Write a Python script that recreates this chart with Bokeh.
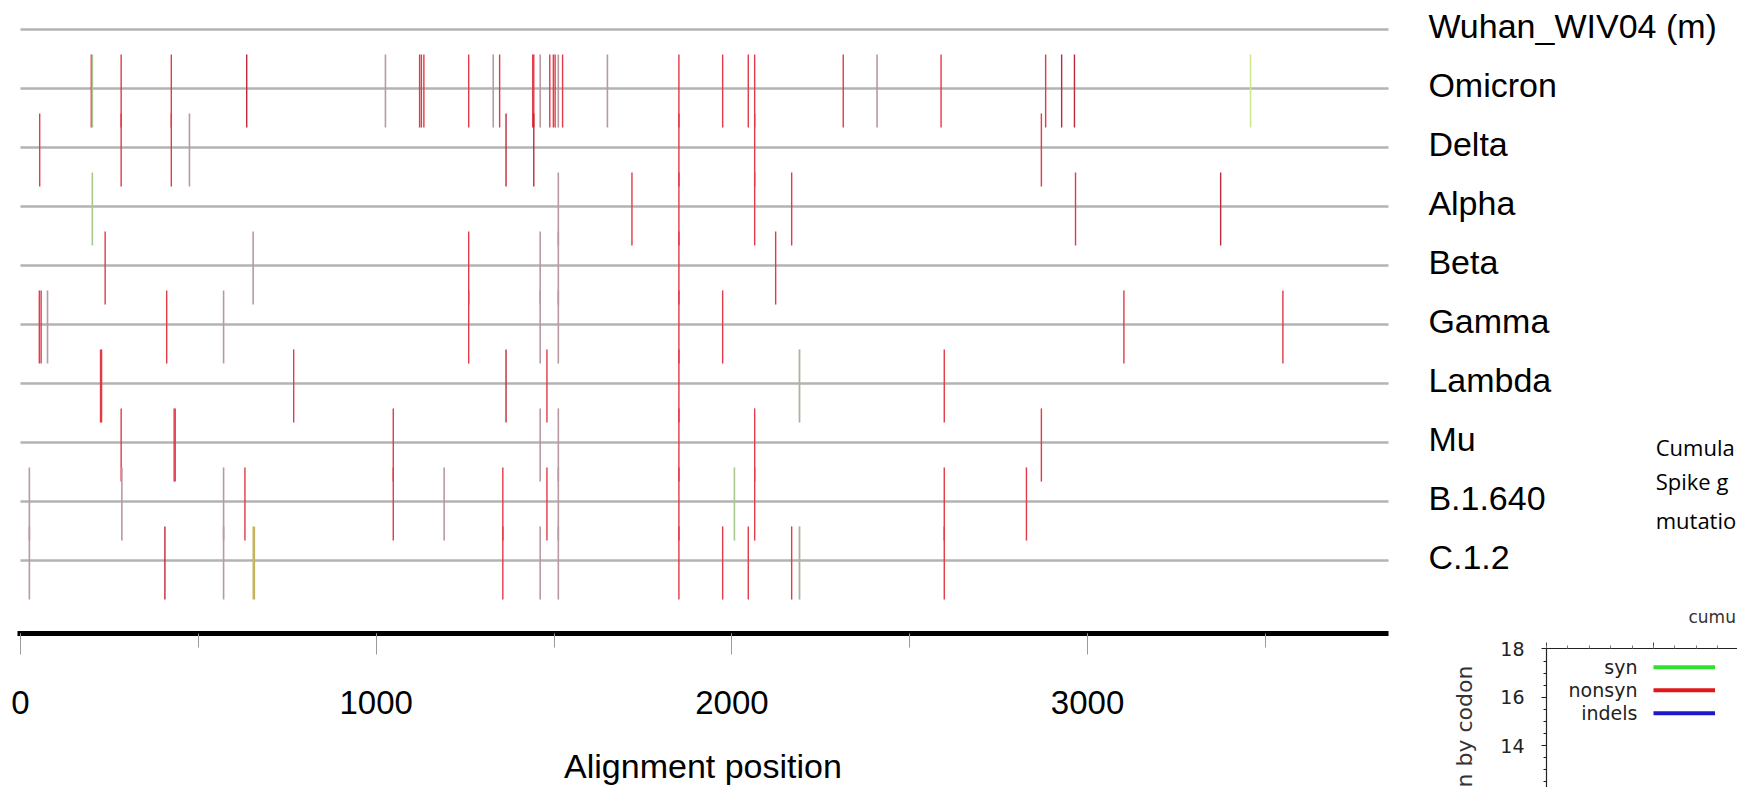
import math
from bokeh.plotting import figure
from bokeh.models import ColumnDataSource, Range1d, SingleIntervalTicker, Title
from bokeh.embed import file_html
from bokeh.resources import INLINE
from bokeh.core.properties import value

# ---------------- data ----------------
variants = ["Wuhan_WIV04 (m)", "Omicron", "Delta", "Alpha", "Beta", "Gamma",
            "Lambda", "Mu", "B.1.640", "C.1.2"]
alignment_length = 3846

# alignment positions of marks per sequence, and mark kind
# n = nonsynonymous, d = nonsyn (dark), g = mixed/other, s = synonymous,
# y = synonymous (light), o = other (olive), k = mixed syn/nonsyn
wuhan_pos = []
wuhan_kind = []
omicron_pos = [199, 202, 283, 424, 636, 1026, 1122, 1127, 1134, 1260, 1329, 1347, 1440, 1443,
               1461, 1488, 1498, 1503, 1512, 1524, 1650, 1851, 1974, 2046, 2064, 2313, 2408,
               2588, 2882, 2927, 2963, 3458]
omicron_kind = ["n", "s", "n", "n", "d", "g", "n", "n", "n", "n", "g", "n", "n", "n",
                "g", "n", "n", "n", "g", "n", "g", "n", "n", "n", "n", "n", "g",
                "n", "n", "d", "d", "y"]
delta_pos = [54, 283, 424, 475, 1365, 1443, 1851, 2064, 2870]
delta_kind = ["n", "n", "n", "g", "d", "d", "n", "n", "n"]
alpha_pos = [202, 1512, 1719, 1851, 2064, 2168, 2966, 3374]
alpha_kind = ["s", "g", "n", "n", "n", "n", "n", "d"]
beta_pos = [238, 654, 1260, 1461, 1512, 1851, 2123]
beta_kind = ["n", "g", "n", "g", "g", "n", "n"]
gamma_pos = [53, 58, 76, 411, 571, 1260, 1461, 1512, 1851, 1974, 3102, 3549]
gamma_kind = ["n", "n", "g", "n", "g", "n", "g", "g", "n", "n", "n", "n"]
lambda_pos = [225, 228, 768, 1365, 1480, 1851, 2190, 2597]
lambda_kind = ["n", "n", "n", "d", "n", "n", "o", "n"]
mu_pos = [283, 432, 435, 1048, 1461, 1512, 1851, 2064, 2870]
mu_kind = ["n", "n", "n", "n", "g", "g", "n", "n", "n"]
b1640_pos = [25, 285, 571, 631, 1048, 1191, 1356, 1480, 1512, 1851, 2007, 2064, 2597, 2828]
b1640_kind = ["g", "g", "g", "n", "n", "g", "n", "n", "g", "n", "s", "n", "n", "n"]
c12_pos = [25, 406, 571, 656, 1356, 1461, 1512, 1851, 1974, 2046, 2168, 2190, 2597]
c12_kind = ["g", "d", "g", "k", "n", "g", "g", "n", "n", "n", "n", "o", "n"]

x_tick_interval = 1000

side_texts = ["Cumula", "Spike g", "mutatio"]

# inset (cumulative mutation plot, only its top-left part is visible)
legend_labels = ["syn", "nonsyn", "indels"]
legend_colors = ["#2fe02f", "#e01818", "#1a1ac8"]
inset_title = "cumu"
inset_ylabel = "n by codon"

# ---------------- styles ----------------
kind_color = {"n": "#e23a48", "d": "#bf2a3a", "g": "#b89aa0", "s": "#a9c88e",
              "y": "#cde78c", "o": "#acb59c", "k": "#c7b35c"}
kind_width = {"n": 1.4, "d": 1.4, "g": 1.6, "s": 1.6, "y": 1.6, "o": 1.8, "k": 2.6}
UP, DOWN = 0.576, 0.664   # mark extent above/below the sequence line (row units)
FONT = "Liberation Sans"

rows = [(wuhan_pos, wuhan_kind), (omicron_pos, omicron_kind), (delta_pos, delta_kind),
        (alpha_pos, alpha_kind), (beta_pos, beta_kind), (gamma_pos, gamma_kind),
        (lambda_pos, lambda_kind), (mu_pos, mu_kind), (b1640_pos, b1640_kind),
        (c12_pos, c12_kind)]

xs, y0, y1, cols, ws = [], [], [], [], []
for i, (pos, kind) in enumerate(rows):
    for xp, k in zip(pos, kind):
        xs.append(xp)
        y0.append(i - UP)
        y1.append(i + DOWN)
        cols.append(kind_color[k])
        ws.append(kind_width[k])
marks = ColumnDataSource(dict(x=xs, y0=y0, y1=y1, color=cols, w=ws))

n_rows = len(variants)
seq_lines = ColumnDataSource(dict(x0=[0] * n_rows, x1=[alignment_length] * n_rows,
                                  y=list(range(n_rows))))
names = ColumnDataSource(dict(x=[alignment_length + 112] * n_rows, y=list(range(n_rows)),
                              text=variants))

# ---------------- main highlighter panel ----------------
p = figure(width=1737, height=600, x_range=Range1d(-8.4, 4827), y_range=Range1d(9.68, -0.49),
           output_backend="svg", toolbar_location=None,
           x_axis_location=None, y_axis_location=None,
           min_border_left=17, min_border_right=0, min_border_top=0, min_border_bottom=0)
p.outline_line_color = None
p.background_fill_color = "white"
p.border_fill_color = "white"
p.grid.visible = False

p.segment(x0="x0", x1="x1", y0="y", y1="y", line_color="#b3b3b3", line_width=2.5,
          source=seq_lines)
p.segment(x0="x", x1="x", y0="y0", y1="y1", line_color="color", line_width="w", source=marks)
p.text(x="x", y="y", text="text", source=names, text_align="left", text_baseline="middle",
       y_offset=-3, text_font=value(FONT), text_font_size="34px", text_color="black")
p.text(x=[4597] * 3, y=[7.07, 7.646, 8.32], text=side_texts, text_align="left",
       text_baseline="alphabetic", text_font=value("Open Sans"), text_font_size="22px",
       text_color="black")

# ---------------- x axis panel (same scale as the main panel) ----------------
p2 = figure(width=1737, height=187, x_range=Range1d(-8.4, alignment_length), y_range=Range1d(0, 1),
            output_backend="svg", toolbar_location=None, y_axis_location=None,
            min_border_left=17, min_border_right=349, min_border_top=0, min_border_bottom=154)
p2.outline_line_color = None
p2.grid.visible = False
p2.background_fill_color = "white"
p2.border_fill_color = "white"
ax = p2.xaxis[0]
ax.ticker = SingleIntervalTicker(interval=x_tick_interval, num_minor_ticks=2)
ax.axis_line_width = 5
ax.axis_line_color = "black"
ax.major_tick_out = 21
ax.major_tick_in = 0
ax.minor_tick_out = 14
ax.minor_tick_in = 0
ax.major_tick_line_color = "#9a9a9a"
ax.minor_tick_line_color = "#9a9a9a"
ax.major_label_text_font = FONT
ax.major_label_text_font_size = "33px"
ax.major_label_text_color = "black"
ax.major_label_standoff = 36
ax.axis_label = "Alignment position"
ax.axis_label_text_font = FONT
ax.axis_label_text_font_size = "34px"
ax.axis_label_text_font_style = "normal"
ax.axis_label_text_color = "black"
ax.axis_label_standoff = 30

# ---------------- inset (cut off at the window edges) ----------------
p3 = figure(width=317, height=203, x_range=Range1d(0, 357), y_range=Range1d(12.27, 18.02),
            output_backend="svg", toolbar_location=None,
            x_axis_location="above", y_axis_location="left",
            min_border_left=126, min_border_right=0, min_border_top=64, min_border_bottom=0,
            margin=(-203, 0, 0, 1420))
p3.outline_line_color = None
p3.grid.visible = False
p3.background_fill_color = "white"
p3.border_fill_color = None
p3.border_fill_alpha = 0
p3.title.text = inset_title
p3.title.align = "left"
p3.title.offset = 142
p3.title.text_font = "DejaVu Sans"
p3.title.text_font_size = "17px"
p3.title.text_font_style = "normal"
p3.title.text_color = "#333333"
p3.title.standoff = 31

# y label of the inset (starts at the bottom edge, reads upwards)
p3.add_layout(Title(text=inset_ylabel, align="left", offset=0, standoff=42,
                    text_font="DejaVu Sans", text_font_size="22px", text_font_style="normal",
                    text_color="#333333"), "left")

ly = p3.yaxis[0]
ly.ticker = SingleIntervalTicker(interval=2, num_minor_ticks=4)
ly.axis_line_color = "#222222"
ly.axis_line_width = 1.2
ly.major_tick_out = 5
ly.major_tick_in = 0
ly.minor_tick_out = 3
ly.minor_tick_in = 0
ly.major_tick_line_color = "#222222"
ly.minor_tick_line_color = "#222222"
ly.major_label_text_font = "DejaVu Sans"
ly.major_label_text_font_size = "19px"
ly.major_label_text_color = "#222222"
ly.major_label_standoff = 17

tx = p3.xaxis[0]
tx.ticker = SingleIntervalTicker(interval=200, num_minor_ticks=5)
tx.axis_line_color = "#222222"
tx.axis_line_width = 1.2
tx.major_tick_out = 6
tx.major_tick_in = 0
tx.minor_tick_out = 3
tx.minor_tick_in = 0
tx.major_tick_line_color = "#444444"
tx.minor_tick_line_color = "#777777"
tx.major_label_text_color = None
tx.major_label_text_font_size = "2px"
tx.major_label_standoff = 0

legend_y = [17.24 - 0.95 * i for i in range(len(legend_labels))]
p3.text(x=[170] * len(legend_labels), y=legend_y, text=legend_labels,
        text_align="right", text_baseline="middle", text_font=value("DejaVu Sans"),
        text_font_size="19px", text_color="#222222")
p3.segment(x0=[200] * 3, x1=[315] * 3, y0=legend_y, y1=legend_y,
           line_color=legend_colors, line_width=4)

open("out.html", "w").write(file_html([p, p2, p3], INLINE))
